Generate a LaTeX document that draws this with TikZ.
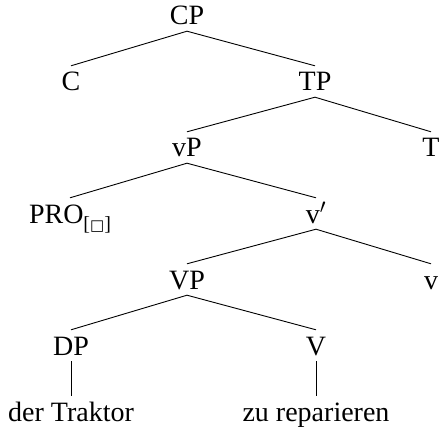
\documentclass[tikz,border=0pt]{standalone}
\usepackage{fontspec}
\setmainfont{Liberation Serif}
\newfontfamily\symfont{DejaVu Sans}
\begin{document}
\begin{tikzpicture}[x=1pt,y=-1pt,
  lab/.style={anchor=base,inner xsep=0pt,inner ysep=3pt,text height=22pt,text depth=3pt,
    font=\fontsize{28}{33}\selectfont},
  edge/.style={line width=0.9pt}]
\useasboundingbox (0,0) rectangle (439,433);
\node[lab] (CP) at (187,25) {CP};
\node[lab] (C) at (71,91) {C};
\node[lab] (TP) at (315,91) {TP};
\node[lab] (vP) at (187,157) {vP};
\node[lab] (T) at (431,157) {T};
\node[lab] (PRO) at (70,223) {PRO\raisebox{-7pt}{\fontsize{20}{21}\selectfont[{\symfont\fontsize{15}{15}\selectfont □}]}};
\node[lab] (vbar) at (316,223) {v$'$};
\node[lab] (VP) at (187,289) {VP};
\node[lab] (v) at (431,289) {v};
\node[lab] (DP) at (71,355) {DP};
\node[lab] (V) at (316,355) {V};
\node[lab] (dt) at (71,421) {der Traktor};
\node[lab] (zr) at (316,421) {zu reparieren};
\draw[edge] (C.north) -- (CP.south) -- (TP.north);
\draw[edge] (vP.north) -- (TP.south) -- (T.north);
\draw[edge] (PRO.north) -- (vP.south) -- (vbar.north);
\draw[edge] (VP.north) -- (vbar.south) -- (v.north);
\draw[edge] (DP.north) -- (VP.south) -- (V.north);
\draw[edge] (DP.south) -- (dt.north);
\draw[edge] (V.south) -- (zr.north);
\end{tikzpicture}
\end{document}
